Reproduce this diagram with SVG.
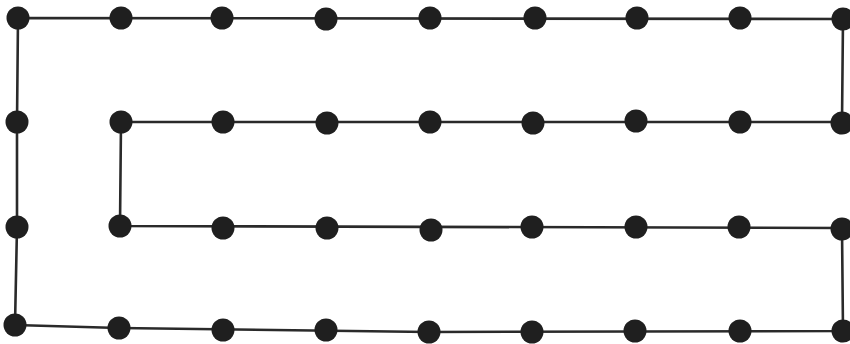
<svg xmlns="http://www.w3.org/2000/svg" width="850" height="344" viewBox="0 0 850 344">
<style>
.c{fill:none;stroke:#2a2a2a;stroke-width:2.6;stroke-linejoin:round}
.d{fill:#1f1f1f}
</style>
<rect width="850" height="344" fill="#ffffff"/>
<g id="connectors">
<polyline class="c" points="18,18 843,19 842,122 121,122 120,226 842,228 843,331 429,332 119,328 15,325 17,227 17,122 18,18"/>
</g>
<g id="n1"><circle class="d" cx="18" cy="18" r="11.5"/></g>
<g id="n2"><circle class="d" cx="121" cy="18" r="11.5"/></g>
<g id="n3"><circle class="d" cx="222" cy="18" r="11.5"/></g>
<g id="n4"><circle class="d" cx="326" cy="19" r="11.5"/></g>
<g id="n5"><circle class="d" cx="430" cy="18" r="11.5"/></g>
<g id="n6"><circle class="d" cx="535" cy="18" r="11.5"/></g>
<g id="n7"><circle class="d" cx="637" cy="18" r="11.5"/></g>
<g id="n8"><circle class="d" cx="740" cy="18" r="11.5"/></g>
<g id="n9"><circle class="d" cx="843" cy="19" r="11.5"/></g>
<g id="n10"><circle class="d" cx="17" cy="122" r="11.5"/></g>
<g id="n11"><circle class="d" cx="121" cy="122" r="11.5"/></g>
<g id="n12"><circle class="d" cx="223" cy="122" r="11.5"/></g>
<g id="n13"><circle class="d" cx="327" cy="123" r="11.5"/></g>
<g id="n14"><circle class="d" cx="430" cy="122" r="11.5"/></g>
<g id="n15"><circle class="d" cx="533" cy="123" r="11.5"/></g>
<g id="n16"><circle class="d" cx="636" cy="121" r="11.5"/></g>
<g id="n17"><circle class="d" cx="740" cy="122" r="11.5"/></g>
<g id="n18"><circle class="d" cx="842" cy="123" r="11.5"/></g>
<g id="n19"><circle class="d" cx="17" cy="227" r="11.5"/></g>
<g id="n20"><circle class="d" cx="120" cy="226" r="11.5"/></g>
<g id="n21"><circle class="d" cx="223" cy="228" r="11.5"/></g>
<g id="n22"><circle class="d" cx="327" cy="228" r="11.5"/></g>
<g id="n23"><circle class="d" cx="431" cy="230" r="11.5"/></g>
<g id="n24"><circle class="d" cx="532" cy="227" r="11.5"/></g>
<g id="n25"><circle class="d" cx="636" cy="227" r="11.5"/></g>
<g id="n26"><circle class="d" cx="739" cy="227" r="11.5"/></g>
<g id="n27"><circle class="d" cx="842" cy="229" r="11.5"/></g>
<g id="n28"><circle class="d" cx="15" cy="325" r="11.5"/></g>
<g id="n29"><circle class="d" cx="119" cy="328" r="11.5"/></g>
<g id="n30"><circle class="d" cx="223" cy="330" r="11.5"/></g>
<g id="n31"><circle class="d" cx="326" cy="330" r="11.5"/></g>
<g id="n32"><circle class="d" cx="429" cy="332" r="11.5"/></g>
<g id="n33"><circle class="d" cx="532" cy="332" r="11.5"/></g>
<g id="n34"><circle class="d" cx="635" cy="331" r="11.5"/></g>
<g id="n35"><circle class="d" cx="740" cy="331" r="11.5"/></g>
<g id="n36"><circle class="d" cx="843" cy="331" r="11.5"/></g>
</svg>
